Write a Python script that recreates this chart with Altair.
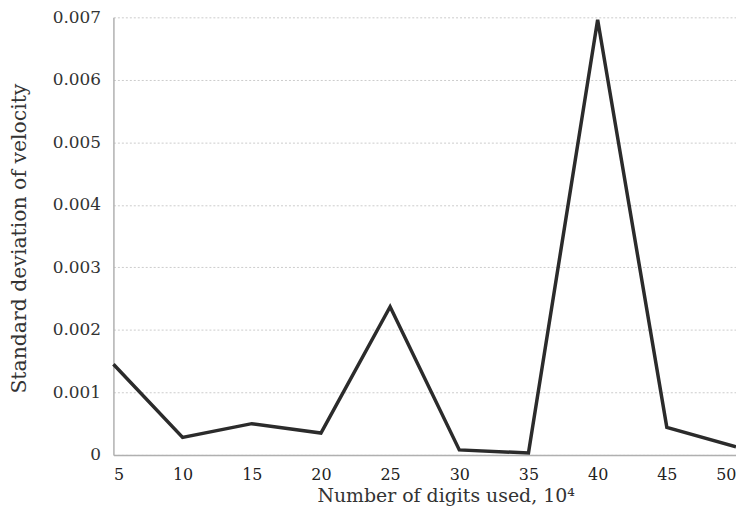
import altair as alt
import pandas as pd

digits = [5, 10, 15, 20, 25, 30, 35, 40, 45, 50]
std_velocity = [0.00145, 0.00028, 0.00050, 0.00035, 0.00237, 0.00008, 0.00003, 0.00696, 0.00044, 0.00013]
x_ticks = [5, 10, 15, 20, 25, 30, 35, 40, 45, 50]
y_ticks = [0, 0.001, 0.002, 0.003, 0.004, 0.005, 0.006, 0.007]

df = pd.DataFrame({"digits": digits, "std": std_velocity})

FONT = "'DejaVu Serif', serif"

chart = alt.Chart(df).mark_line(
    color="#2b2b2b", strokeWidth=3.5, strokeJoin="miter", clip=False
).encode(
    x=alt.X(
        "digits:Q",
        scale=alt.Scale(domain=[5, 50], nice=False, zero=False),
        axis=alt.Axis(
            values=x_ticks, format="d", title="Number of digits used, 10\u2074",
            grid=False, ticks=False, domainColor="#b0b0b0", domainWidth=1.5,
            labelFont=FONT, labelFontSize=16, labelColor="#222", labelPadding=12,
            labelFlush=True, labelOverlap=False,
            titleFont=FONT, titleFontSize=19, titleFontWeight="normal", titleColor="#333",
            titleX=334, titleY=41, titleAlign="center", titleBaseline="middle",
        ),
    ),
    y=alt.Y(
        "std:Q",
        scale=alt.Scale(domain=[0, 0.007], nice=False),
        axis=alt.Axis(
            values=y_ticks, format=".3~f", title="Standard deviation of velocity",
            grid=True, gridColor="#cccccc", gridDash=[2, 2], gridWidth=1,
            ticks=False, domainColor="#b0b0b0", domainWidth=1.5,
            labelFont=FONT, labelFontSize=17, labelColor="#333", labelPadding=13,
            titleFont=FONT, titleFontSize=20.5, titleFontWeight="normal", titleColor="#333",
            titleX=-94, titleY=222, titleAngle=270, titleAlign="center", titleBaseline="middle",
        ),
    ),
).properties(
    width=626,
    height=440,
    autosize=alt.AutoSizeParams(type="none"),
    padding={"left": 106, "top": 8, "right": 0, "bottom": 52},
).configure_view(stroke=None)

chart.save("out.html", embed_options={"renderer": "svg", "actions": False})
